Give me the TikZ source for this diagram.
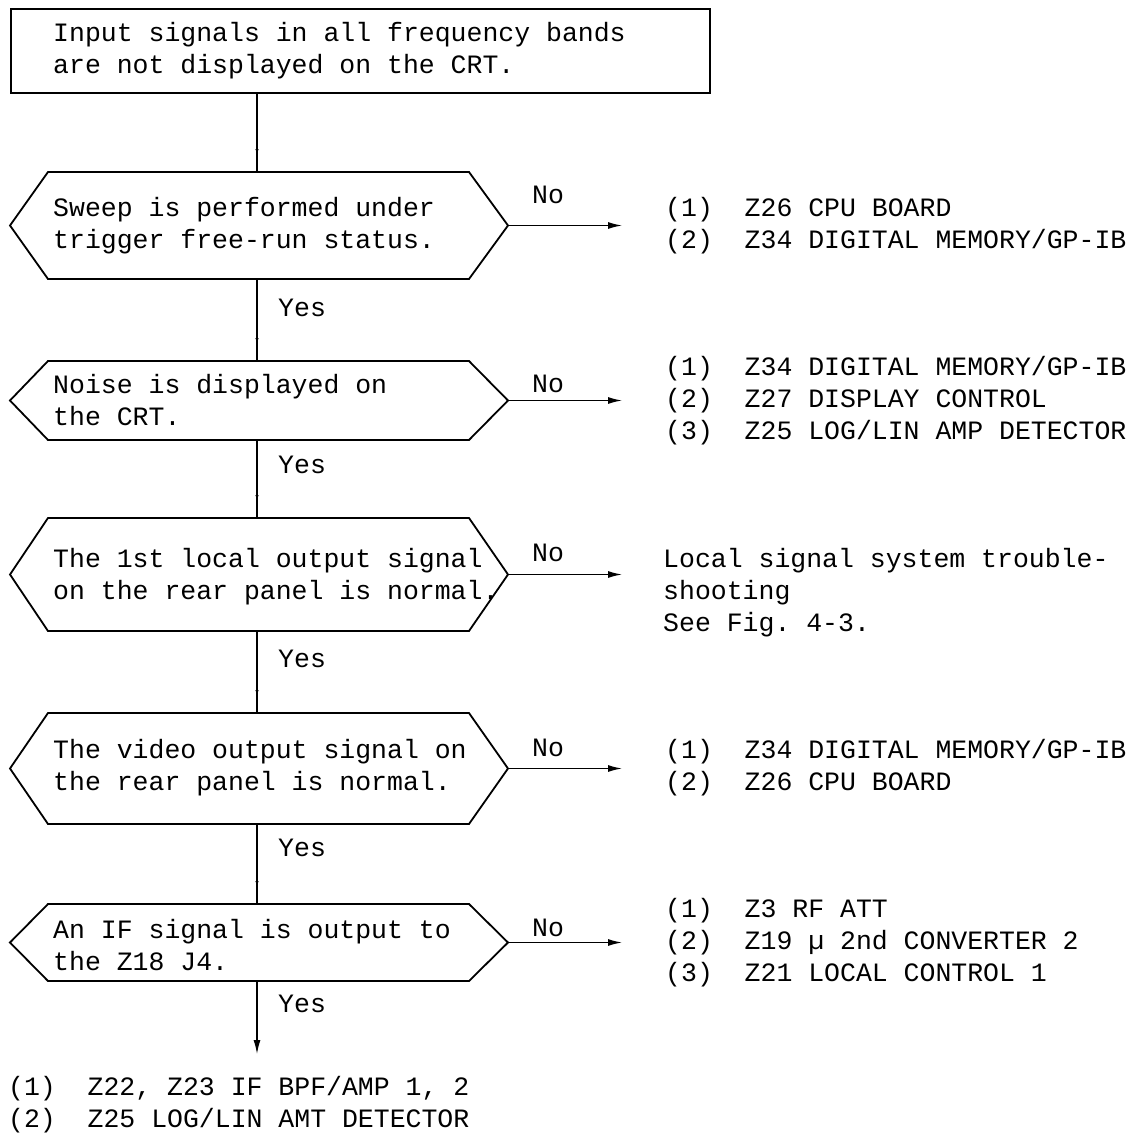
\documentclass[tikz,border=0pt]{standalone}
\usepackage{fontspec}
\newfontfamily\monof{Liberation Mono}[WordSpace={1,0,0},PunctuationSpace=WordSpace]
\usetikzlibrary{arrows.meta,decorations.markings,calc}
\tikzset{
  shapeline/.style={line width=1.8pt, line join=miter},
  conn/.style={line width=1.3pt},
  midtip/.style={postaction={decorate}, decoration={markings, mark=at position -18pt with {\arrow{Latex[length=5pt,width=3.5pt]}}}},
  endtip/.style={-{Latex[length=14pt,width=7pt]}},
  txt/.style={font=\monof\fontsize{26.5}{32}\selectfont\frenchspacing, inner sep=0pt, align=left},
}
\newcommand\hexbox[3]{%
  \coordinate (#1-w) at (10,{(#2+#3)/2});
  \coordinate (#1-nw) at (48,#2);
  \coordinate (#1-ne) at (469,#2);
  \coordinate (#1-e) at (508,{(#2+#3)/2});
  \coordinate (#1-se) at (469,#3);
  \coordinate (#1-sw) at (48,#3);
  \coordinate (#1-n) at (257,#2);
  \coordinate (#1-s) at (257,#3);
  \draw[shapeline] (#1-w) -- (#1-nw) -- (#1-ne) -- (#1-e) -- (#1-se) -- (#1-sw) -- cycle;
}
\begin{document}
\begin{tikzpicture}[x=1pt,y=-1pt]
\useasboundingbox (0,0) rectangle (1131,1135);
% top box
\node[draw, shapeline, anchor=north west, minimum width=699pt, minimum height=84pt, inner sep=0pt] (top) at (10,8) {};
\node[txt, anchor=west] (toptext) at (53,51) {Input signals in all frequency bands\\are not displayed on the CRT.};
% hexagons
\hexbox{h1}{172}{279}
\hexbox{h2}{361}{440}
\hexbox{h3}{518}{631}
\hexbox{h4}{713}{824}
\hexbox{h5}{904}{981}
\node[txt, anchor=west] (t1) at (53,225.5) {Sweep is performed under\\trigger free-run status.};
\node[txt, anchor=west] (t2) at (53,400) {Noise is displayed on\\the CRT.};
\node[txt, anchor=west] (t3) at (53,577) {The 1st local output signal\\on the rear panel is normal.};
\node[txt, anchor=west] (t4) at (53,768) {The video output signal on\\the rear panel is normal.};
\node[txt, anchor=west] (t5) at (53,945) {An IF signal is output to\\the Z18 J4.};
% vertical connectors
\coordinate (top-s) at (top.south -| h1-n);
\draw[conn, midtip] (top-s) -- (h1-n);
\draw[conn, midtip] (h1-s) -- (h2-n);
\draw[conn, midtip] (h2-s) -- (h3-n);
\draw[conn, midtip] (h3-s) -- (h4-n);
\draw[conn, midtip] (h4-s) -- (h5-n);
\coordinate (endp) at (257,1054);
\draw[conn, endtip] (h5-s) -- (endp);
% yes labels
\node[txt, anchor=west] (y1) at (278,308) {Yes};
\node[txt, anchor=west] (y2) at (278,465) {Yes};
\node[txt, anchor=west] (y3) at (278,659) {Yes};
\node[txt, anchor=west] (y4) at (278,848) {Yes};
\node[txt, anchor=west] (y5) at (278,1004) {Yes};
% no arrows
\foreach \h in {h1,h2,h3,h4,h5}{
  \coordinate (\h-x) at ($(\h-e)+(114,0)$);
  \draw[conn, endtip] (\h-e) -- (\h-x);
}
\node[txt, anchor=west] (n1) at (532,195) {No};
\node[txt, anchor=west] (n2) at (532,384) {No};
\node[txt, anchor=west] (n3) at (532,553) {No};
\node[txt, anchor=west] (n4) at (532,748) {No};
\node[txt, anchor=west] (n5) at (532,928) {No};
% right texts
\node[txt, anchor=west] (r1) at (665,226) {(1)\ \ Z26 CPU BOARD\\(2)\ \ Z34 DIGITAL MEMORY/GP-IB};
\node[txt, anchor=west] (r2) at (665,401) {(1)\ \ Z34 DIGITAL MEMORY/GP-IB\\(2)\ \ Z27 DISPLAY CONTROL\\(3)\ \ Z25 LOG/LIN AMP DETECTOR};
\node[txt, anchor=west] (r3) at (663,593) {Local signal system trouble-\\shooting\\See Fig. 4-3.};
\node[txt, anchor=west] (r4) at (665,768) {(1)\ \ Z34 DIGITAL MEMORY/GP-IB\\(2)\ \ Z26 CPU BOARD};
\node[txt, anchor=west] (r5) at (665,943) {(1)\ \ Z3 RF ATT\\(2)\ \ Z19 µ 2nd CONVERTER 2\\(3)\ \ Z21 LOCAL CONTROL 1};
% bottom text
\node[txt, anchor=west] (b1) at (8,1105) {(1)\ \ Z22, Z23 IF BPF/AMP 1, 2\\(2)\ \ Z25 LOG/LIN AMT DETECTOR};
\end{tikzpicture}
\end{document}
